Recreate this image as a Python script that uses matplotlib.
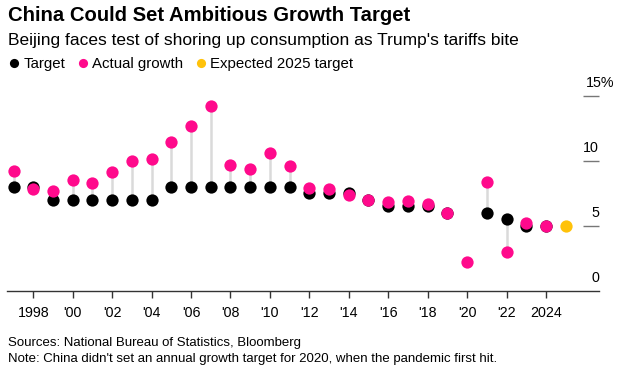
import matplotlib.pyplot as plt
from matplotlib.lines import Line2D

plt.rcParams['font.family'] = ['Liberation Sans', 'DejaVu Sans']

# data
anos = list(range(1997, 2025))
meta = [8, 8, 7, 7, 7, 7, 7, 7, 8, 8, 8, 8, 8, 8, 8, 7.5, 7.5, 7.5, 7, 6.5,
        6.5, 6.5, 6, None, 6, 5.5, 5, 5]
real = [9.2, 7.8, 7.7, 8.5, 8.3, 9.1, 10.0, 10.1, 11.4, 12.7, 14.2, 9.7, 9.4, 10.6,
        9.6, 7.9, 7.8, 7.4, 7.0, 6.8, 6.9, 6.7, 6.0, 2.2, 8.4, 3.0, 5.2, 5.0]
ano_prev = [2025]
meta_prev = [5]
ticks_x = list(range(1998, 2025, 2))
ticks_x_lbl = ['1998'] + ["'%02d" % (a % 100) for a in ticks_x[1:-1]] + ['2024']
ticks_y = [0, 5, 10, 15]

ROSA = '#ff0a8c'
AMARELO = '#ffc20a'
CINZA = '#dadada'

W, H = 622, 373
fig = plt.figure(figsize=(W / 100, H / 100), dpi=100)
ax = fig.add_axes([7 / W, (H - 290.7) / H, (599 - 7) / W, (290.7 - 95.7) / H])

# linhas verticais entre meta e real
for a, m, r in zip(anos, meta, real):
    if m is not None:
        ax.plot([a, a], [m, r], color=CINZA, lw=1.8, zorder=1, solid_capstyle='butt')

am = [a for a, m in zip(anos, meta) if m is not None]
mm = [m for m in meta if m is not None]
ax.scatter(am, mm, s=78, color='black', zorder=2, clip_on=False, linewidths=0)
ax.scatter(anos, real, s=78, color=ROSA, zorder=3, clip_on=False, linewidths=0)
ax.scatter(ano_prev, meta_prev, s=78, color=AMARELO, zorder=3, clip_on=False, linewidths=0)

ax.set_xlim(1996.667, 2026.69)
ax.set_ylim(0, 15)

for s in ['top', 'left', 'right']:
    ax.spines[s].set_visible(False)
ax.spines['bottom'].set_color('#333333')
ax.spines['bottom'].set_linewidth(1)

ax.set_xticks(ticks_x)
ax.set_xticklabels(ticks_x_lbl, fontsize=10.3, color='black')
ax.tick_params(axis='x', length=5, width=1, color='#333333', pad=6)

# marcas curtas do eixo y na direita
ax.set_yticks(ticks_y[1:])
ax.yaxis.tick_right()
ax.tick_params(axis='y', direction='in', length=11.5, width=1, color='#777777',
               labelright=False)
for v in ticks_y:
    if v == 15:
        ax.annotate('15%', (1, v), xycoords=('axes fraction', 'data'),
                    xytext=(-9.5, 4), textcoords='offset points',
                    ha='left', va='bottom', fontsize=10.3)
    else:
        ax.annotate('%d' % v, (1, v), xycoords=('axes fraction', 'data'),
                    xytext=(0, 4), textcoords='offset points',
                    ha='right', va='bottom', fontsize=10.3)

fig.text(8 / W, 1 - 21 / H, 'China Could Set Ambitious Growth Target',
         fontsize=14.6, fontweight='bold', ha='left', va='baseline')
fig.text(8 / W, 1 - 45.5 / H, "Beijing faces test of shoring up consumption as Trump's tariffs bite",
         fontsize=12.5, ha='left', va='baseline')

handles = [
    Line2D([], [], marker='o', ls='none', color='black', markersize=6.6, markeredgewidth=0, label='Target'),
    Line2D([], [], marker='o', ls='none', color=ROSA, markersize=6.6, markeredgewidth=0, label='Actual growth'),
    Line2D([], [], marker='o', ls='none', color=AMARELO, markersize=6.6, markeredgewidth=0, label='Expected 2025 target'),
]
fig.legend(handles=handles, loc='center left', bbox_to_anchor=(9.2 / W, 1 - 64 / H),
           ncol=3, frameon=False, fontsize=10.8, handlelength=0.6, handletextpad=0.35,
           columnspacing=0.85, borderaxespad=0, borderpad=0)

fig.text(8 / W, 1 - 346 / H, 'Sources: National Bureau of Statistics, Bloomberg',
         fontsize=9.5, ha='left', va='baseline')
fig.text(8 / W, 1 - 362 / H,
         "Note: China didn't set an annual growth target for 2020, when the pandemic first hit.",
         fontsize=9.5, ha='left', va='baseline')

fig.savefig('out.png', dpi=100)
